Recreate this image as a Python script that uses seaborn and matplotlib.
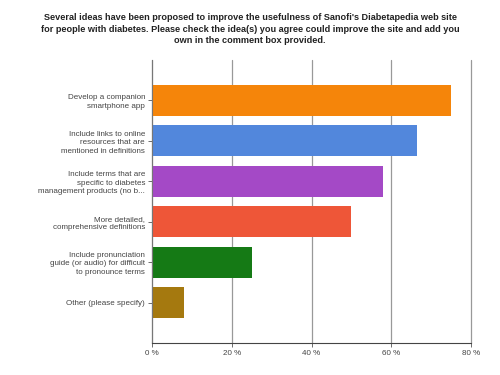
import pandas as pd
import seaborn as sns
import matplotlib.pyplot as plt

# Data
options = [
    "Develop a companion\nsmartphone app",
    "Include links to online\nresources that are\nmentioned in definitions",
    "Include terms that are\nspecific to diabetes\nmanagement products (no b...",
    "More detailed,\ncomprehensive definitions",
    "Include pronunciation\nguide (or audio) for difficult\nto pronounce terms",
    "Other (please specify)",
]
percent = [75, 66.5, 58, 50, 25, 8]
colors = ["#F5850A", "#5287DC", "#A449C6", "#EE5638", "#157A15", "#A5790F"]

title = ("Several ideas have been proposed to improve the usefulness of Sanofi's Diabetapedia web site\n"
         "for people with diabetes. Please check the idea(s) you agree could improve the site and add you\n"
         "own in the comment box provided.")

df = pd.DataFrame({"option": options, "percent": percent})

sns.set_theme(style="white")
plt.rcParams["font.family"] = ["Liberation Sans", "DejaVu Sans"]

fig = plt.figure(figsize=(5, 3.75), dpi=100)
ax = fig.add_axes([0.304, 0.085, 0.638, 0.755])

sns.barplot(
    data=df, x="percent", y="option", hue="option",
    palette=colors, legend=False, width=0.77, orient="h",
    saturation=1, edgecolor="none", ax=ax,
)

ax.set_xlim(0, 80)
ax.set_ylim(len(options), -1)
ax.set_xticks([0, 20, 40, 60, 80])
ax.set_xticklabels(["0 %", "20 %", "40 %", "60 %", "80 %"], fontsize=5.8, color="#444444")
ax.tick_params(axis="y", labelsize=5.8, labelcolor="#444444", length=3, width=0.6,
               color="#555555", left=True, pad=2)
ax.tick_params(axis="x", length=3, width=0.6, color="#555555", bottom=True, pad=2)
for lbl in ax.get_yticklabels():
    lbl.set_multialignment("right")
    lbl.set_linespacing(1.3)

ax.xaxis.grid(True, color="#999999", linewidth=0.9)
for line in ax.get_xgridlines():
    line.set_clip_on(False)
ax.set_axisbelow(True)
for side in ["top", "right"]:
    ax.spines[side].set_visible(False)
ax.spines["left"].set_color("#777777")
ax.spines["bottom"].set_color("#444444")
ax.spines["left"].set_linewidth(0.8)
ax.spines["bottom"].set_linewidth(0.8)
ax.set_xlabel("")
ax.set_ylabel("")

fig.text(0.5, 0.965, title, ha="center", va="top", fontsize=6.6,
         fontweight="bold", color="#222222", linespacing=1.35)

plt.savefig("out.png", dpi=100)
